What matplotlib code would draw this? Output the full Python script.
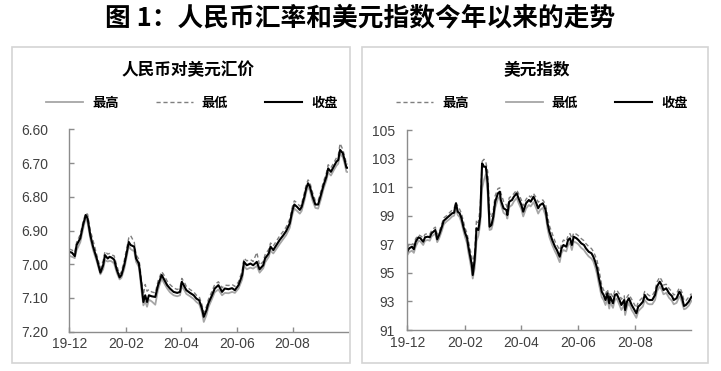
import matplotlib
matplotlib.use("Agg")
import matplotlib.pyplot as plt
import matplotlib.dates as mdates
from matplotlib.patches import Rectangle
import pandas as pd

plt.rcParams['font.family'] = ['Noto Sans CJK SC', 'DejaVu Sans']

TITLE = "图 1：人民币汇率和美元指数今年以来的走势"
L_TITLE = "人民币对美元汇价"
R_TITLE = "美元指数"
BASE = "2019-12-01"

# ---- USD/CNY (days since BASE) ----
L_days = [0,3,6,8,12,15,18,20,23,26,30,34,37,39,42,44,46,49,52,55,57,60,63,65,67,71,73,76,77,79,
          81,83,85,87,90,94,97,101,103,107,110,114,118,121,123,126,128,132,136,139,142,145,147,150,152,
          156,159,163,167,170,174,178,181,185,189,191,194,198,201,205,208,212,214,218,220,223,226,230,
          234,237,241,244,246,249,252,254,257,259,261,263,266,269,272,275,278,281,283,286,289,292,294,
          296,299,301,303,305]
L_close = [6.963,6.966,6.976,6.943,6.923,6.884,6.854,6.864,6.914,6.948,6.983,7.025,7.003,6.973,6.983,
           6.978,6.980,6.986,7.017,7.039,7.032,7.003,6.963,6.934,6.943,6.948,6.983,6.998,7.017,7.062,
           7.112,7.092,7.112,7.092,7.095,7.097,7.062,7.032,7.042,7.062,7.072,7.082,7.085,7.082,7.052,
           7.067,7.077,7.085,7.092,7.102,7.107,7.131,7.156,7.136,7.116,7.092,7.072,7.062,7.082,7.072,
           7.074,7.071,7.077,7.062,7.032,6.993,7.003,6.998,7.003,6.993,7.015,7.003,6.983,6.968,6.948,
           6.958,6.945,6.928,6.914,6.902,6.879,6.839,6.823,6.830,6.839,6.830,6.800,6.775,6.760,6.770,
           6.800,6.823,6.823,6.795,6.765,6.741,6.716,6.726,6.711,6.696,6.691,6.661,6.671,6.691,6.714,
           6.714]
L_high = [6.975,6.978,6.982,6.958,6.935,6.897,6.862,6.878,6.925,6.958,6.992,7.030,7.015,6.988,6.992,
          6.990,6.991,6.998,7.026,7.045,7.040,7.015,6.975,6.945,6.955,6.962,6.993,7.008,7.030,7.080,
          7.122,7.110,7.126,7.105,7.110,7.120,7.075,7.042,7.053,7.072,7.083,7.092,7.095,7.092,7.065,
          7.078,7.088,7.095,7.103,7.112,7.118,7.142,7.171,7.150,7.128,7.103,7.083,7.075,7.092,7.085,
          7.086,7.082,7.085,7.072,7.045,7.005,7.015,7.010,7.013,7.005,7.025,7.012,6.995,6.978,6.960,
          6.968,6.956,6.940,6.925,6.914,6.892,6.852,6.835,6.842,6.850,6.842,6.812,6.787,6.770,6.782,
          6.812,6.833,6.835,6.808,6.776,6.752,6.728,6.737,6.722,6.708,6.702,6.672,6.683,6.702,6.726,
          6.727]
L_low = [6.955,6.958,6.965,6.935,6.912,6.875,6.848,6.852,6.900,6.930,6.972,7.012,6.990,6.962,6.970,
         6.968,6.972,6.975,7.005,7.030,7.022,6.990,6.950,6.922,6.915,6.935,6.972,6.985,7.002,7.050,
         7.090,7.060,7.080,7.075,7.082,7.085,7.050,7.022,7.030,7.050,7.060,7.070,7.075,7.070,7.042,
         7.055,7.066,7.075,7.082,7.092,7.096,7.120,7.143,7.125,7.105,7.080,7.060,7.052,7.070,7.062,
         7.063,7.060,7.066,7.052,7.020,6.982,6.990,6.986,6.992,6.965,7.003,6.992,6.972,6.956,6.937,
         6.946,6.933,6.916,6.902,6.890,6.866,6.828,6.812,6.818,6.828,6.820,6.788,6.764,6.750,6.758,
         6.788,6.812,6.812,6.784,6.754,6.730,6.705,6.714,6.700,6.685,6.678,6.642,6.660,6.680,6.702,
         6.703]
L_yticks = [6.60, 6.70, 6.80, 6.90, 7.00, 7.10, 7.20]

# ---- Dollar index ----
R_days = [0,2,5,7,9,12,14,17,19,22,24,26,28,30,32,34,37,39,42,45,48,50,52,54,56,58,60,62,64,65,67,69,
          70,72,73,74,76,78,80,82,84,86,88,90,92,94,97,99,100,103,106,107,109,112,114,117,119,122,124,
          127,130,132,135,138,140,142,145,148,150,152,155,158,160,163,165,167,170,172,174,176,178,181,
          183,186,189,191,194,197,199,201,203,205,207,208,210,212,214,216,217,220,222,224,227,229,232,
          233,235,237,240,242,245,247,249,252,254,257,259,262,265,267,270,272,274,277,280,283,285,288,
          291,292,294,296,298,301,304]
R_close = [96.48,96.72,96.83,96.65,97.18,97.49,97.42,97.18,97.49,97.53,97.49,97.77,97.88,98.00,97.35,
           97.65,98.23,98.65,98.82,98.98,99.17,99.21,99.87,99.28,99.17,98.82,98.23,97.77,97.42,96.95,
           96.25,95.55,94.85,95.90,96.83,98.12,98.00,98.93,102.67,102.43,102.43,101.27,98.23,98.35,
           98.93,99.98,100.57,100.68,100.10,99.52,99.40,99.05,99.98,100.10,100.33,100.57,100.22,99.75,
           99.28,99.87,100.10,99.98,100.33,99.87,99.52,99.75,99.87,99.40,98.47,97.88,97.30,96.83,96.60,
           96.13,96.72,96.95,96.83,97.30,97.42,96.95,97.53,97.42,97.30,97.07,96.95,96.72,96.48,96.37,
           96.13,95.78,95.32,94.62,94.03,93.68,93.45,93.10,93.57,92.87,93.33,92.87,93.45,93.52,93.10,
           92.75,93.10,92.40,92.98,93.22,92.75,92.52,92.17,92.63,92.75,92.98,93.45,93.15,93.10,93.10,
           93.45,94.03,94.38,94.15,93.80,93.92,93.57,93.38,93.10,93.22,93.68,93.61,93.22,92.68,92.75,
           92.98,93.33]
R_high = [96.75,97.00,97.05,96.95,97.40,97.65,97.60,97.45,97.70,97.75,97.70,97.95,98.10,98.20,97.70,
          97.85,98.45,98.85,99.00,99.20,99.40,99.50,99.95,99.65,99.45,99.15,98.60,98.10,97.75,97.35,
          96.70,96.10,95.60,96.40,97.60,98.70,98.50,99.60,102.80,102.95,102.75,102.10,99.20,98.90,
          99.40,100.40,100.90,100.95,100.60,100.00,99.75,99.50,100.25,100.40,100.55,100.80,100.55,
          100.10,99.70,100.15,100.40,100.30,100.55,100.25,99.95,100.05,100.10,99.80,99.00,98.30,97.75,
          97.20,96.95,96.60,97.00,97.30,97.20,97.60,97.75,97.40,97.80,97.70,97.60,97.40,97.25,97.05,
          96.85,96.70,96.50,96.20,95.85,95.20,94.50,94.10,93.80,93.50,93.85,93.30,93.65,93.30,93.75,
          93.80,93.50,93.15,93.40,92.85,93.30,93.50,93.15,92.90,92.55,92.95,93.10,93.30,93.70,93.50,
          93.40,93.40,93.75,94.35,94.70,94.50,94.15,94.20,93.90,93.70,93.45,93.55,93.95,93.90,93.60,
          93.05,93.05,93.30,93.55]
R_low = [96.25,96.45,96.55,96.40,96.85,97.25,97.20,96.95,97.25,97.30,97.25,97.55,97.65,97.75,97.15,
         97.40,97.95,98.40,98.60,98.75,98.95,99.00,99.45,99.05,98.90,98.50,97.95,97.45,97.05,96.55,
         95.85,95.10,94.60,95.30,96.10,97.20,97.60,98.40,100.90,101.50,101.90,100.50,98.00,98.05,
         98.55,99.55,100.20,100.35,99.80,99.20,99.05,98.80,99.60,99.75,100.00,100.25,99.90,99.45,
         98.95,99.50,99.75,99.65,99.95,99.50,99.15,99.40,99.55,99.00,98.10,97.50,96.95,96.50,96.25,
         95.75,96.40,96.60,96.50,96.95,97.10,96.60,97.20,97.10,97.00,96.75,96.60,96.40,96.15,96.00,
         95.80,95.40,94.90,94.20,93.60,93.30,93.10,92.75,93.20,92.50,92.95,92.55,93.10,93.20,92.75,
         92.40,92.75,92.05,92.60,92.90,92.40,92.20,91.85,92.30,92.45,92.65,93.10,92.85,92.80,92.80,
         93.10,93.70,94.05,93.85,93.50,93.60,93.25,93.05,92.80,92.90,93.35,93.30,92.90,92.45,92.50,
         92.70,93.05]
R_yticks = [91, 93, 95, 97, 99, 101, 103, 105]

HIGH_LABEL, LOW_LABEL, CLOSE_LABEL = "最高", "最低", "收盘"

W, H = 721, 371
fig = plt.figure(figsize=(W / 100, H / 100), dpi=100)

def fx(px):
    return px / W

def fy(py):
    return 1 - py / H

# panel borders
for x0, x1 in [(12, 350), (362, 708)]:
    fig.patches.append(Rectangle((fx(x0), fy(363)), fx(x1 - x0), (363 - 47) / H,
                                 transform=fig.transFigure, fill=False,
                                 edgecolor="#d4d4d4", linewidth=1.2))

fig.text(0.5, fy(18), TITLE, ha="center", va="center", fontsize=18.5, fontweight="bold",
         color="black")

base = pd.Timestamp(BASE)
Ld = base + pd.to_timedelta(L_days, unit="D")
Rd = base + pd.to_timedelta(R_days, unit="D")

AX_COL = "#8c8c8c"
TXT_COL = "#404040"

def style_axes(ax, ypad):
    for s in ["top", "right"]:
        ax.spines[s].set_visible(False)
    for s in ["left", "bottom"]:
        ax.spines[s].set_color(AX_COL)
        ax.spines[s].set_linewidth(1.0)
    ax.tick_params(axis="both", direction="in", length=3.5, width=1.0, color=AX_COL,
                   labelcolor=TXT_COL, labelsize=10)
    ax.tick_params(axis="y", pad=ypad)
    ax.tick_params(axis="x", pad=4)
    ax.xaxis.set_major_locator(mdates.MonthLocator(bymonth=[12, 2, 4, 6, 8]))
    ax.xaxis.set_major_formatter(mdates.DateFormatter("%y-%m"))
    for lab in ax.get_xticklabels() + ax.get_yticklabels():
        lab.set_family(["Liberation Sans", "DejaVu Sans"])

LEG_PROP = {"family": "Noto Sans CJK SC", "weight": "bold", "size": 9.5}

# ---- left axes ----
axL = fig.add_axes([fx(69.3), fy(331.7), fx(348.3 - 69.3), (331.7 - 129.3) / H])
hL, = axL.plot(Ld, L_high, color="#a6a6a6", lw=1.3, solid_joinstyle="round")
lL, = axL.plot(Ld, L_low, color="#7f7f7f", lw=1.0, ls=(0, (3, 2)))
cL, = axL.plot(Ld, L_close, color="black", lw=1.5, solid_joinstyle="round")
axL.set_ylim(7.20, 6.60)
axL.set_yticks(L_yticks)
axL.set_yticklabels([f"{v:.2f}" for v in L_yticks])
axL.set_xlim(base, Ld[-1])
style_axes(axL, 15)
fig.text(fx(188), fy(70), L_TITLE, ha="center", va="center", fontsize=12, fontweight="bold")
fig.legend([hL, lL, cL], [HIGH_LABEL, LOW_LABEL, CLOSE_LABEL], loc="center",
           bbox_to_anchor=(fx(192), fy(103)), ncol=3, frameon=False, prop=LEG_PROP,
           handlelength=2.8, handletextpad=0.7, columnspacing=2.8, borderaxespad=0)

# ---- right axes ----
axR = fig.add_axes([fx(407.3), fy(330), fx(691.5 - 407.3), (330 - 130) / H])
hR, = axR.plot(Rd, R_high, color="#7f7f7f", lw=1.0, ls=(0, (3, 2)))
lR, = axR.plot(Rd, R_low, color="#a6a6a6", lw=1.3, solid_joinstyle="round")
cR, = axR.plot(Rd, R_close, color="black", lw=1.5, solid_joinstyle="round")
axR.set_ylim(91, 105)
axR.set_yticks(R_yticks)
axR.set_xlim(base, Rd[-1])
style_axes(axR, 9)
fig.text(fx(537), fy(70), R_TITLE, ha="center", va="center", fontsize=12, fontweight="bold")
fig.legend([hR, lR, cR], [HIGH_LABEL, LOW_LABEL, CLOSE_LABEL], loc="center",
           bbox_to_anchor=(fx(542), fy(103)), ncol=3, frameon=False, prop=LEG_PROP,
           handlelength=2.8, handletextpad=0.7, columnspacing=2.8, borderaxespad=0)

fig.savefig("out.png", dpi=100)
